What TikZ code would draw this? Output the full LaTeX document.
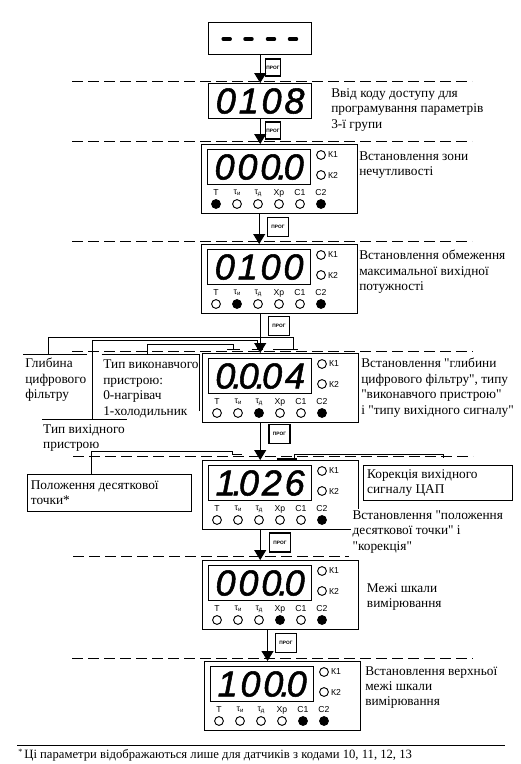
\documentclass[tikz,border=0pt]{standalone}
\usepackage{fontspec}
\setmainfont{Liberation Serif}[Ligatures=TeXOff]
\newfontfamily\labfont{Liberation Sans}
\newfontfamily\segfont[LetterSpace=8,FakeBold=1.5]{Liberation Sans}
\usetikzlibrary{arrows.meta,positioning}

\newcommand{\tsub}[1]{τ\raisebox{-0.6pt}{\fontsize{4.5}{5}\selectfont #1}}
\newcommand{\dpt}{\kern-2.5pt.\kern-2.5pt}
% one controller front panel: name, x, y (top left), reading, lamp fills
\newcommand{\panel}[5]{%
  \node[panelbox] (#1) at (#2,#3) {};
  \node[dispbox] (#1d) at ({#2+6},{#3+5}) {\segfont\itshape #4};
  \node[lamp] (#1k1) at ({#2+120},{#3+11}) {};
  \node[lamp] (#1k2) at ({#2+120},{#3+31}) {};
  \node[klab,right=1pt of #1k1] (#1t1) {К1};
  \node[klab,right=1pt of #1k2] (#1t2) {К2};
  \foreach \f [count=\k] in {#5}
    \node[lamp,fill=\f] (#1c\k) at ({#2+15+21*(\k-1)},{#3+60}) {};
  \foreach \l [count=\k] in {Т,\tsub{и},\tsub{д},Хр,С1,С2}
    \node[klab] (#1l\k) at ({#2+15+21*(\k-1)},{#3+49}) {\l};
}

\begin{document}
\begin{tikzpicture}[x=0.75pt,y=-0.75pt,
  panelbox/.style={draw,line width=0.8pt,anchor=north west,inner sep=0,
    minimum width=117pt,minimum height=51.75pt},
  dispbox/.style={draw,line width=0.8pt,anchor=north west,inner sep=0,
    minimum width=77.5pt,minimum height=26.25pt,font=\fontsize{27}{27}\selectfont},
  lamp/.style={circle,draw,line width=0.7pt,inner sep=0,minimum size=6.6pt},
  klab/.style={inner sep=0.5pt,font=\labfont\fontsize{6.5}{7}\selectfont},
  prog/.style={draw,line width=1.1pt,inner sep=0,minimum width=16pt,minimum height=14pt,
    font=\labfont\bfseries\fontsize{3.6}{4}\selectfont},
  flow/.style={line width=0.7pt,-{Triangle[width=9pt,length=7.5pt]}},
  sep/.style={line width=0.6pt,dash pattern=on 8pt off 4pt},
  lbl/.style={anchor=north west,align=left,inner sep=0,font=\fontsize{10}{11.6}\selectfont},
  box/.style={draw,line width=0.6pt,anchor=north west,align=flush left,inner xsep=2.6pt,
    inner ysep=0,font=\fontsize{10}{11.6}\selectfont}]
\useasboundingbox (0,0) rectangle (521,764);

% separators
\foreach \y/\a/\b in {81.7/72/472,141/72/472,241.5/72/472,351/72/473,
    456.7/73/473,556.7/73/349,658.3/72/473}
  \draw[sep] (\a,\y) -- (\b,\y);

% access code
\node[dispbox,minimum height=24pt] (b1) at (208,22) {};
\foreach \x in {226.7,248.5,271,293}
  \draw[line width=2.6pt,line cap=round] (\x-3.5,39) -- (\x+3.5,39);
\node[dispbox] (b2) at (208,83) {\segfont\itshape 0108};

% panels
\panel{p3}{201}{144}{000\dpt0}{black,white,white,white,white,black}
\panel{p4}{201}{244}{0100}{white,black,white,white,white,black}
\panel{p5}{202}{353}{0\dpt0\dpt04}{white,white,black,white,white,black}
\panel{p6}{202}{460}{1\dpt026}{white,white,white,white,white,black}
\panel{p7}{202}{560}{000\dpt0}{white,white,white,black,white,black}
\panel{p8}{204}{661}{100\dpt0}{white,white,white,white,black,black}

% steps
\coordinate (a78) at ([xshift=4pt]p8d.north);
\draw[flow] (b1.south) -- (b2.north);
\draw[flow] (b2.south) -- (b2.south |- p3.north);
\draw[flow] (p3d.south |- p3.south) -- (p3d.south |- p4.north);
\draw[flow] (p5d.north |- p4.south) -- (p5d.north |- p5.north);
\draw[flow] (p5d.south |- p5.south) -- (p5d.south |- p6.north);
\draw[flow] (p6d.south |- p6.south) -- (p6d.south |- p7.north);
\draw[flow] (a78 |- p7.south) -- (a78 |- p8.north);

\node[prog,minimum width=11pt,minimum height=12.5pt] (q1) at (273,67.5) {ПРОГ};
\node[prog,minimum width=11pt,minimum height=12.5pt] (q2) at (273,130.5) {ПРОГ};
\node[prog] (q3) at (278,227) {ПРОГ};
\node[prog] (q4) at (279,326) {ПРОГ};
\node[prog] (q5) at (279.5,434) {ПРОГ};
\node[prog] (q6) at (280,542.5) {ПРОГ};
\node[prog] (q7) at (286,643) {ПРОГ};

% texts
\node[lbl] (t2) at (331,88) {Ввід коду доступу для\\програмування параметрів\\3-ї групи};
\node[lbl] (t3) at (359,151) {Встановлення зони\\нечутливості};
\node[lbl] (t4) at (359,250) {Встановлення обмеження\\максимальної вихідної\\потужності};
\node[lbl] (t5) at (361,358) {Встановлення "глибини\\цифрового фільтру", типу\\"виконавчого пристрою"\\і "типу вихідного сигналу"};
\node[lbl,fill=white,inner sep=1pt] (t6) at (351,509) {Встановлення "положення\\десяткової точки" і\\"корекція"};
\node[lbl] (t7) at (366.7,583) {Межі шкали\\вимірювання};
\node[lbl] (t8) at (365,666) {Встановлення верхньої\\межі шкали\\вимірювання};

% parameter callouts
\node[lbl,inner xsep=1.5pt,inner ysep=2.8pt] (glib) at (23,354) {Глибина\\цифрового\\фільтру};
\node[lbl,inner xsep=1pt,inner ysep=4.2pt] (tv) at (101.7,354.3) {Тип виконавчого\\пристрою:\\0-нагрівач\\1-холодильник};
\node[lbl,inner xsep=0.5pt,inner ysep=3.8pt] (tvh) at (42.3,419) {Тип вихідного\\пристрою};
\node[box,text width=117.75pt,minimum height=27.75pt] (pol) at (27,474) {Положення десяткової\\точки*};
\node[box,text width=106.5pt,minimum height=26.25pt] (kor) at (363.3,465) {Корекція вихідного\\сигналу ЦАП};

\draw (glib.north west) -- ++(64,0);
\draw (tv.north west) -- ++(97.3,0) -- ++(0,56.4);
\draw (tvh.north west) -- ++(85,0);

\coordinate (ca1) at (48,337.3);
\coordinate (ca2) at (293,349.5);
\draw (glib.north west -| ca1) -- (ca1) -| (ca2);
\draw ([xshift=-15pt]ca2) -- ([xshift=3.75pt]ca2);
\coordinate (cb1) at (92.7,340.7);
\coordinate (cb2) at (257.3,349.3);
\draw (tvh.north west -| cb1) -- (cb1) -| (cb2);
\draw ([xshift=-4.2pt]cb2) -- ([xshift=4.5pt]cb2);
\coordinate (cc1) at (147.3,344);
\coordinate (cc2) at (233.3,349.3);
\draw (tv.north west -| cc1) -- (cc1) -| (cc2);
\draw ([xshift=-4.7pt]cc2) -- ([xshift=5pt]cc2);
\coordinate (cd1) at (91.7,451.7);
\coordinate (cd2) at (232.3,454.3);
\draw (pol.north -| cd1) -- (cd1) -| (cd2) -- ++(9.4,0);
\coordinate (ce1) at (294.3,454.3);
\coordinate (ce2) at (443.3,454.3);
\draw (p6.north -| ce1) -- (ce1) -- (ce2) -- ++(0,4);
\draw[line width=0.9pt] ([xshift=-13pt,yshift=-3.5pt]ce1) -- ([xshift=2pt,yshift=-3.5pt]ce1);

% footnote
\draw[line width=0.6pt] (17,745) -- (505,745);
\node[anchor=base west,inner sep=0,font=\fontsize{9.5}{11}\selectfont] (foot) at (18,758)
  {\raisebox{3pt}{\fontsize{6}{6}\selectfont *}\,Ці параметри відображаються лише для датчиків з кодами 10, 11, 12, 13};
\end{tikzpicture}
\end{document}
